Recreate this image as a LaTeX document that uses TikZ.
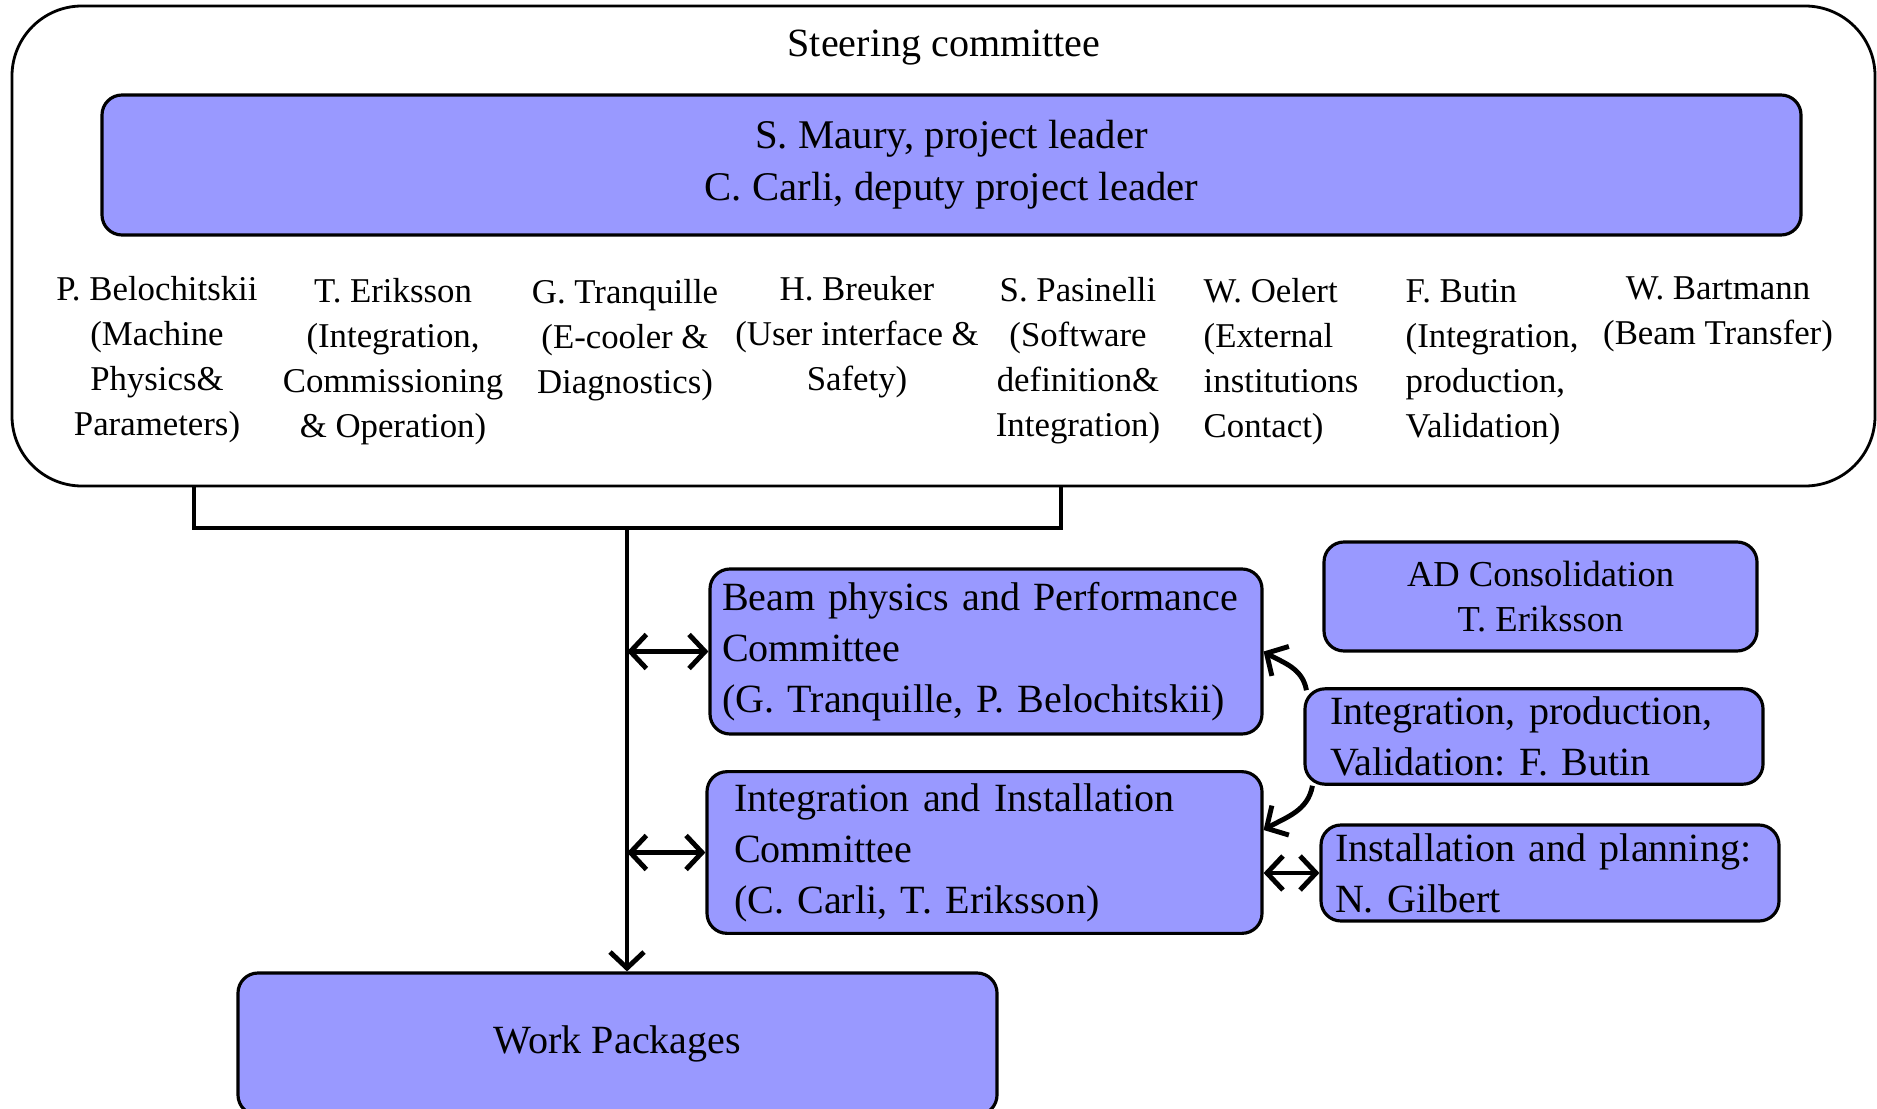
\documentclass[tikz,border=0pt]{standalone}
\usepackage{fontspec}
\setmainfont{Liberation Serif}
\usetikzlibrary{arrows.meta}
\definecolor{boxblue}{RGB}{153,153,255}
\frenchspacing

\begin{document}
\begin{tikzpicture}[
    >={Straight Barb[length=1.6mm,width=3.4mm]},
    box/.style={draw, fill=boxblue, rounded corners=0.2cm, line width=0.9pt},
    big/.style={font=\fontsize{11.4}{14.5}\selectfont},
    small/.style={font=\fontsize{9.9}{12.8}\selectfont},
    conn/.style={line width=1.4pt}]
    \useasboundingbox (0,0) rectangle (18.77,-11.09);

    % steering committee
    \node[draw, line width=0.8pt, rounded corners=0.7cm, minimum width=18.63cm, minimum height=4.8cm] (steer) at (9.435,-2.46) {};
    \node[big] (title) at (9.44,-0.48) {Steering committee};
    \node[box, font=\fontsize{11.6}{14.8}\selectfont, align=center, minimum width=16.99cm, minimum height=1.4cm] (lead) at (9.515,-1.65) {S. Maury, project leader\\C. Carli, deputy project leader};

    % members
    \node[small, align=center] (belo) at (1.57,-3.60) {P. Belochitskii\\(Machine\\Physics\&\\Parameters)};
    \node[small, align=center] (erik) at (3.93,-3.62) {T. Eriksson\\(Integration,\\Commissioning\\\& Operation)};
    \node[small, align=center] (tranq) at (6.25,-3.40) {G. Tranquille\\(E-cooler \&\\Diagnostics)};
    \node[small, align=center] (breu) at (8.57,-3.37) {H. Breuker\\(User interface \&\\Safety)};
    \node[small, align=center] (pasi) at (10.78,-3.61) {S. Pasinelli\\(Software\\definition\&\\Integration)};
    \node[small, align=left, anchor=west, inner xsep=0pt] (oel) at (12.03,-3.62) {W. Oelert\\(External\\institutions\\Contact)};
    \node[small, align=left, anchor=west, inner xsep=0pt] (but) at (14.05,-3.62) {F. Butin\\(Integration,\\production,\\Validation)};
    \node[small, align=center] (bart) at (17.18,-3.14) {W. Bartmann\\(Beam Transfer)};

    % committees
    \node[box, big, align=left, inner xsep=0.12cm, text width=5.28cm, minimum width=5.52cm, minimum height=1.65cm] (beam) at (9.86,-6.515) {\mbox{Beam physics and Performance}\\Committee\\(G. Tranquille, P. Belochitskii)};
    \node[box, big, align=left, inner xsep=0.27cm, text width=5.01cm, minimum width=5.55cm, minimum height=1.51cm] (intc) at (9.845,-8.525) {Integration and Installation\\Committee\\(C. Carli, T. Eriksson)};
    \node[box, font=\fontsize{10.4}{12.6}\selectfont, align=center, minimum width=4.33cm, minimum height=1.09cm] (adc) at (15.405,-5.965) {AD Consolidation\\T. Eriksson};
    \node[box, big, align=left, inner xsep=0.25cm, inner ysep=0.08cm, text width=4.08cm, minimum width=4.58cm, minimum height=0.95cm] (integ) at (15.34,-7.365) {Integration, production,\\Validation: F. Butin};
    \node[box, big, align=left, inner xsep=0.14cm, inner ysep=0.08cm, text width=4.30cm, minimum width=4.58cm, minimum height=0.96cm] (inst) at (15.50,-8.73) {\mbox{Installation and planning:}\\N. Gilbert};
    \node[box, big, minimum width=7.59cm, minimum height=1.42cm] (work) at (6.175,-10.44) {Work Packages};

    % connectors
    \coordinate (bl) at (1.94,-5.28);
    \coordinate (br) at (10.61,-5.28);
    \coordinate (jn) at (6.27,-5.28);
    \draw[conn] (steer.south -| bl) -- (bl) -- (br) -- (steer.south -| br);
    \draw[conn,->] (jn) -- (jn |- work.north);
    \draw[conn,<->] (jn |- beam.west) -- (beam.west);
    \draw[conn,<->] (jn |- intc.west) -- (intc.west);
    \draw[conn,->] ([shift={(0.03,-0.03)}]integ.north west) to[out=100, in=-30] (beam.east);
    \draw[conn,->] ([xshift=0.09cm]integ.south west) to[out=-100, in=30] ([yshift=0.225cm]intc.east);
    \draw[conn,<->] (inst.west -| intc.east) -- (inst.west);
\end{tikzpicture}
\end{document}
